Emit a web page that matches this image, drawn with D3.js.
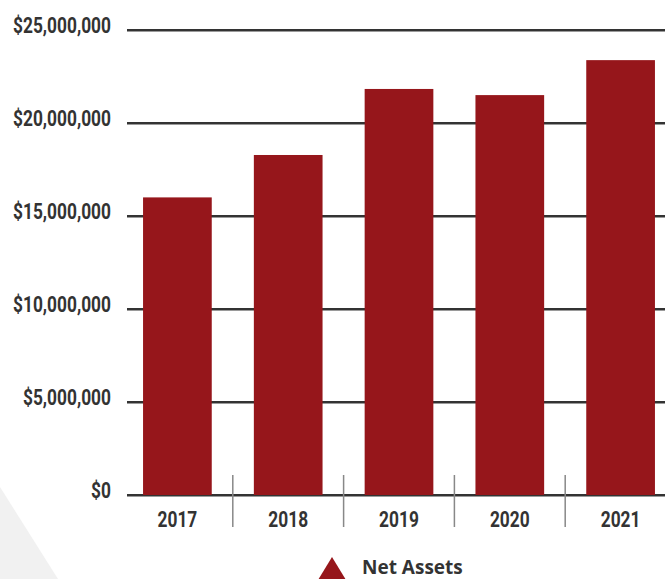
<!DOCTYPE html>
<html>
<head>
<meta charset="utf-8">
<script src="https://cdn.jsdelivr.net/npm/d3@7"></script>
<style>
  body { margin: 0; background: #fff; }
  .tick_lbl { font-family: "Roboto", sans-serif; font-weight: bold; fill: #333; font-size: 22px; }
</style>
</head>
<body>
<div class="chart"></div>
<script>
var years = ["2017", "2018", "2019", "2020", "2021"];
var netAssets = [16000000, 18280000, 21830000, 21500000, 23380000];
var yTicks = [0, 5000000, 10000000, 15000000, 20000000, 25000000];
var legendLabel = "Net Assets";

var W = 665, H = 579;
var svg = d3.select(".chart").append("svg")
    .attr("width", W)
    .attr("height", H);

// faint background shape in the lower left corner
svg.append("path")
    .attr("d", "M0,487 L58,579 L0,579 Z")
    .style("fill", "#f1f1f1");

var x = d3.scaleBand()
    .domain(years)
    .range([122, 676])
    .paddingInner(0.38)
    .paddingOuter(0.19);

var y = d3.scaleLinear()
    .domain([0, 25000000])
    .range([495, 30]);

var fmt = function (d) { return "$" + d3.format(",")(d); };

// gridlines (dark line with a lighter shadow under it)
var grid = svg.append("g");
grid.selectAll(".shadow")
    .data(yTicks)
    .enter()
    .append("line")
    .attr("x1", 127).attr("x2", W)
    .attr("y1", function (d) { return y(d) + 1.5; })
    .attr("y2", function (d) { return y(d) + 1.5; })
    .attr("stroke", "#9a9a9a")
    .attr("stroke-width", 1);
grid.selectAll(".gl")
    .data(yTicks)
    .enter()
    .append("line")
    .attr("x1", 127).attr("x2", W)
    .attr("y1", function (d) { return y(d); })
    .attr("y2", function (d) { return y(d); })
    .attr("stroke", "#333")
    .attr("stroke-width", 2);

// condensed look: squeeze Roboto bold horizontally
var probe = svg.append("text").attr("class", "tick_lbl").text(fmt(25000000));
var sx = 98 / probe.node().getComputedTextLength();
probe.remove();

svg.selectAll(".ylbl")
    .data(yTicks)
    .enter()
    .append("text")
    .attr("class", "tick_lbl")
    .attr("transform", function (d) { return "translate(111," + (y(d) + 3) + ") scale(" + sx + ",1)"; })
    .style("text-anchor", "end")
    .text(fmt);

// bars
svg.selectAll(".bar")
    .data(netAssets)
    .enter()
    .append("rect")
    .attr("x", function (d, i) { return x(years[i]); })
    .attr("y", function (d) { return y(d); })
    .attr("width", x.bandwidth())
    .attr("height", function (d) { return y(0) - y(d); })
    .style("fill", "#96161b");

// category dividers
var dividers = years.slice(1).map(function (yr) { return x(yr) - x.step() * x.paddingInner() / 2; });
svg.selectAll(".div")
    .data(dividers)
    .enter()
    .append("line")
    .attr("x1", function (d) { return d; })
    .attr("x2", function (d) { return d; })
    .attr("y1", 475).attr("y2", 527)
    .attr("stroke", "#888")
    .attr("stroke-width", 1.5);

svg.selectAll(".xlbl")
    .data(years)
    .enter()
    .append("text")
    .attr("class", "tick_lbl")
    .attr("transform", function (d) { return "translate(" + (x(d) + x.bandwidth() / 2) + ",527) scale(" + sx + ",1)"; })
    .style("text-anchor", "middle")
    .text(function (d) { return d; });

// legend
svg.append("path")
    .attr("d", "M318,580 L332,557 L346,580 Z")
    .style("fill", "#96161b");
svg.append("text")
    .attr("x", 362)
    .attr("y", 574)
    .style("font-family", "'Open Sans', sans-serif")
    .style("font-weight", "bold")
    .style("font-size", "19px")
    .style("fill", "#333")
    .text(legendLabel);
</script>
</body>
</html>
